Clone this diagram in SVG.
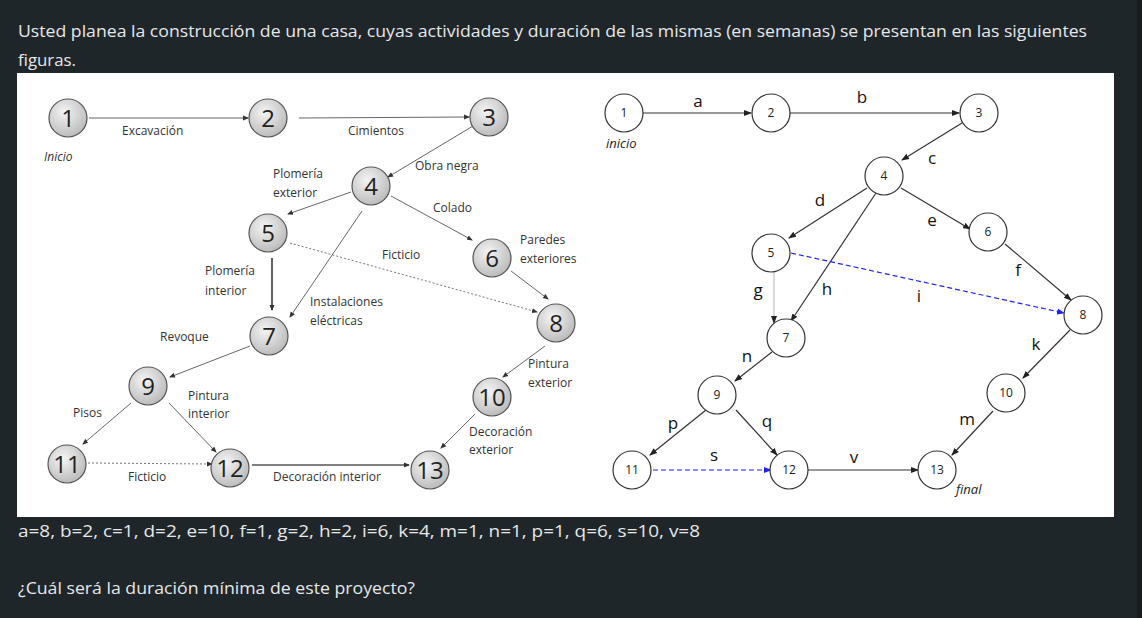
<svg xmlns="http://www.w3.org/2000/svg" width="1142" height="618" viewBox="0 0 1142 618">
<style>
.hdr{font-family:"Open Sans","Liberation Sans",sans-serif;font-size:17px;fill:#e6e8ea}
.ll{font-family:"Open Sans","Liberation Sans",sans-serif;font-size:12px;fill:#333}
.ln{font-family:"Open Sans","Liberation Sans",sans-serif;font-size:24px;fill:#222;text-anchor:middle}
.lc{fill:url(#g1);stroke:#555;stroke-width:1.2}
.le{stroke:#555;stroke-width:0.9;fill:none;marker-end:url(#ma)}
.ld{stroke:#666;stroke-width:0.9;fill:none;stroke-dasharray:2,2;marker-end:url(#ma)}
.rc{fill:#fff;stroke:#333;stroke-width:1.2}
.rn{font-family:"Open Sans","Liberation Sans",sans-serif;font-size:12px;fill:#222;text-anchor:middle}
.rl{font-family:"Open Sans","Liberation Sans",sans-serif;font-size:17px;fill:#111;text-anchor:middle}
.ri{font-family:"Open Sans","Liberation Sans",sans-serif;font-size:13px;font-style:italic;fill:#222}
.re{stroke:#333;stroke-width:1.2;fill:none;marker-end:url(#mb)}
.rb{stroke:#2222ee;stroke-width:1.2;fill:none;stroke-dasharray:5,3;marker-end:url(#mblue)}
</style>
<defs>
<radialGradient id="g1" cx="0.4" cy="0.35" r="0.7">
<stop offset="0" stop-color="#f4f4f4"/>
<stop offset="1" stop-color="#b8b8b8"/>
</radialGradient>
<marker id="ma" markerWidth="6" markerHeight="6" refX="5" refY="3" orient="auto" markerUnits="userSpaceOnUse">
<path d="M0,0.5 L6,3 L0,5.5z" fill="#333"/>
</marker>
<marker id="mb" markerWidth="8" markerHeight="8" refX="7" refY="4" orient="auto" markerUnits="userSpaceOnUse">
<path d="M0,1 L8,4 L0,7z" fill="#222"/>
</marker>
<marker id="mblue" markerWidth="8" markerHeight="8" refX="7" refY="4" orient="auto" markerUnits="userSpaceOnUse">
<path d="M0,1 L8,4 L0,7z" fill="#2222ee"/>
</marker>
</defs>
<rect x="0" y="0" width="1142" height="618" fill="#1f2629"/>
<rect x="1137" y="0" width="5" height="618" fill="#161b1d"/>
<rect x="17" y="73" width="1097" height="444" fill="#ffffff"/>
<text class="hdr" x="18" y="37" textLength="1069" lengthAdjust="spacingAndGlyphs">Usted planea la construcción de una casa, cuyas actividades y duración de las mismas (en semanas) se presentan en las siguientes</text>
<text class="hdr" x="18" y="66" textLength="58" lengthAdjust="spacingAndGlyphs">figuras.</text>
<text class="hdr" x="18" y="537" textLength="682" lengthAdjust="spacingAndGlyphs">a=8, b=2, c=1, d=2, e=10, f=1, g=2, h=2, i=6, k=4, m=1, n=1, p=1, q=6, s=10, v=8</text>
<text class="hdr" x="18" y="594" textLength="397" lengthAdjust="spacingAndGlyphs">¿Cuál será la duración mínima de este proyecto?</text>

<g id="left-connectors">
<line class="le" x1="89" y1="118" x2="248" y2="118"/>
<line class="le" x1="299" y1="118" x2="469" y2="117"/>
<line class="le" x1="473" y1="126" x2="388" y2="177"/>
<line class="le" x1="351" y1="192" x2="288" y2="214"/>
<line class="le" x1="391" y1="196" x2="472" y2="240"/>
<line class="le" x1="362" y1="211" x2="290" y2="317"/>
<line x1="272" y1="258" x2="272" y2="310" stroke="#222" stroke-width="1.4" marker-end="url(#ma)"/>
<line class="ld" x1="290" y1="243" x2="537" y2="312"/>
<line class="le" x1="511" y1="271" x2="548" y2="299"/>
<line class="le" x1="250" y1="346" x2="170" y2="377"/>
<line class="le" x1="545" y1="346" x2="503" y2="377"/>
<line class="le" x1="131" y1="403" x2="83" y2="444"/>
<line class="le" x1="169" y1="403" x2="216" y2="452"/>
<line class="le" x1="475" y1="414" x2="441" y2="448"/>
<line class="ld" x1="88" y1="463" x2="212" y2="464"/>
<line x1="252" y1="465" x2="409" y2="465" stroke="#555" stroke-width="1.6" marker-end="url(#ma)"/>
</g>

<g id="left-labels">
<text class="ll" x="122" y="135">Excavación</text>
<text class="ll" x="44" y="161" font-style="italic">Inicio</text>
<text class="ll" x="348" y="135">Cimientos</text>
<text class="ll" x="273" y="178">Plomería</text>
<text class="ll" x="273" y="197">exterior</text>
<text class="ll" x="415" y="170">Obra negra</text>
<text class="ll" x="433" y="212">Colado</text>
<text class="ll" x="382" y="259">Ficticio</text>
<text class="ll" x="520" y="244">Paredes</text>
<text class="ll" x="520" y="263">exteriores</text>
<text class="ll" x="205" y="275">Plomería</text>
<text class="ll" x="205" y="295">interior</text>
<text class="ll" x="310" y="306">Instalaciones</text>
<text class="ll" x="310" y="325">eléctricas</text>
<text class="ll" x="160" y="341">Revoque</text>
<text class="ll" x="528" y="368">Pintura</text>
<text class="ll" x="528" y="387">exterior</text>
<text class="ll" x="188" y="400">Pintura</text>
<text class="ll" x="188" y="418">interior</text>
<text class="ll" x="73" y="417">Pisos</text>
<text class="ll" x="469" y="436">Decoración</text>
<text class="ll" x="469" y="454">exterior</text>
<text class="ll" x="128" y="481">Ficticio</text>
<text class="ll" x="273" y="481">Decoración interior</text>
</g>

<g id="L1"><circle class="lc" cx="68" cy="118" r="19"/><text class="ln" x="68" y="127">1</text></g>
<g id="L2"><circle class="lc" cx="268" cy="118" r="19"/><text class="ln" x="268" y="127">2</text></g>
<g id="L3"><circle class="lc" cx="489" cy="117" r="19"/><text class="ln" x="489" y="126">3</text></g>
<g id="L4"><circle class="lc" cx="371" cy="186" r="19"/><text class="ln" x="371" y="195">4</text></g>
<g id="L5"><circle class="lc" cx="268" cy="233" r="19"/><text class="ln" x="268" y="242">5</text></g>
<g id="L6"><circle class="lc" cx="492" cy="258" r="19"/><text class="ln" x="492" y="267">6</text></g>
<g id="L7"><circle class="lc" cx="269" cy="336" r="19"/><text class="ln" x="269" y="345">7</text></g>
<g id="L8"><circle class="lc" cx="556" cy="323" r="19"/><text class="ln" x="556" y="332">8</text></g>
<g id="L9"><circle class="lc" cx="148" cy="386" r="19"/><text class="ln" x="148" y="395">9</text></g>
<g id="L10"><circle class="lc" cx="492" cy="397" r="19"/><text class="ln" x="492" y="406">10</text></g>
<g id="L11"><circle class="lc" cx="67" cy="464" r="19"/><text class="ln" x="67" y="473">11</text></g>
<g id="L12"><circle class="lc" cx="230" cy="468" r="19"/><text class="ln" x="230" y="477">12</text></g>
<g id="L13"><circle class="lc" cx="430" cy="470" r="19"/><text class="ln" x="430" y="479">13</text></g>

<g id="right-connectors">
<line class="re" x1="643" y1="113" x2="751" y2="113"/>
<line class="re" x1="783" y1="113" x2="959" y2="113"/>
<line class="re" x1="962" y1="123" x2="902" y2="160"/>
<line class="re" x1="867" y1="188" x2="789" y2="238"/>
<line class="re" x1="901" y1="188" x2="970" y2="229"/>
<line class="re" x1="876" y1="193" x2="791" y2="321"/>
<line x1="774" y1="272" x2="774" y2="323" stroke="#c0c0c0" stroke-width="1.2" marker-end="url(#mb)"/>
<line class="rb" x1="791" y1="253" x2="1064" y2="313"/>
<line class="re" x1="1005" y1="244" x2="1071" y2="300"/>
<line class="re" x1="772" y1="352" x2="735" y2="381"/>
<line class="re" x1="1070" y1="330" x2="1023" y2="378"/>
<line class="re" x1="706" y1="410" x2="650" y2="455"/>
<line class="re" x1="736" y1="410" x2="777" y2="455"/>
<line class="rb" x1="653" y1="470" x2="771" y2="470"/>
<line class="re" x1="808" y1="470" x2="918" y2="470"/>
<line class="re" x1="993" y1="411" x2="952" y2="455"/>
</g>

<g id="right-labels">
<text class="rl" x="698" y="107">a</text>
<text class="rl" x="862" y="103">b</text>
<text class="rl" x="932" y="164">c</text>
<text class="rl" x="820" y="206">d</text>
<text class="rl" x="932" y="226">e</text>
<text class="rl" x="1018" y="276">f</text>
<text class="rl" x="758" y="296">g</text>
<text class="rl" x="827" y="295">h</text>
<text class="rl" x="919" y="302">i</text>
<text class="rl" x="1036" y="350">k</text>
<text class="rl" x="967" y="425">m</text>
<text class="rl" x="747" y="362">n</text>
<text class="rl" x="673" y="429">p</text>
<text class="rl" x="767" y="427">q</text>
<text class="rl" x="714" y="461">s</text>
<text class="rl" x="854" y="463">v</text>
<text class="ri" x="606" y="148">inicio</text>
<text class="ri" x="956" y="494">final</text>
</g>

<g id="R1"><circle class="rc" cx="624" cy="113" r="19"/><text class="rn" x="624" y="117">1</text></g>
<g id="R2"><circle class="rc" cx="771" cy="113" r="19"/><text class="rn" x="771" y="117">2</text></g>
<g id="R3"><circle class="rc" cx="979" cy="113" r="19"/><text class="rn" x="979" y="117">3</text></g>
<g id="R4"><circle class="rc" cx="884" cy="176" r="19"/><text class="rn" x="884" y="180">4</text></g>
<g id="R5"><circle class="rc" cx="771" cy="253" r="19"/><text class="rn" x="771" y="257">5</text></g>
<g id="R6"><circle class="rc" cx="988" cy="232" r="19"/><text class="rn" x="988" y="236">6</text></g>
<g id="R7"><circle class="rc" cx="786" cy="338" r="19"/><text class="rn" x="786" y="342">7</text></g>
<g id="R8"><circle class="rc" cx="1083" cy="315" r="19"/><text class="rn" x="1083" y="319">8</text></g>
<g id="R9"><circle class="rc" cx="717" cy="395" r="19"/><text class="rn" x="717" y="399">9</text></g>
<g id="R10"><circle class="rc" cx="1006" cy="393" r="19"/><text class="rn" x="1006" y="397">10</text></g>
<g id="R11"><circle class="rc" cx="632" cy="470" r="19"/><text class="rn" x="632" y="474">11</text></g>
<g id="R12"><circle class="rc" cx="789" cy="470" r="19"/><text class="rn" x="789" y="474">12</text></g>
<g id="R13"><circle class="rc" cx="937" cy="470" r="19"/><text class="rn" x="937" y="474">13</text></g>
</svg>
